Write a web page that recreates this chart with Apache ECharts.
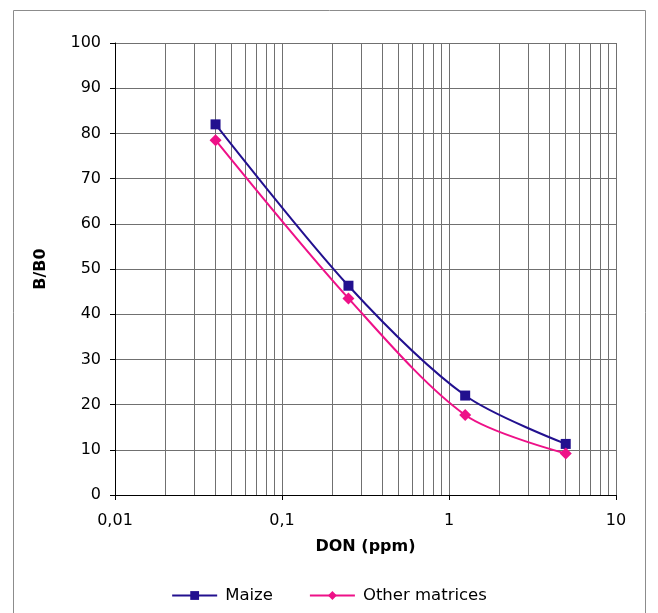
<!DOCTYPE html>
<html>
<head>
<meta charset="utf-8">
<script src="https://cdn.jsdelivr.net/npm/echarts@6/dist/echarts.min.js"></script>
<style>
  html, body { margin: 0; padding: 0; background: #fff; }
  #chart { width: 658px; height: 613px; }
</style>
</head>
<body>
<div id="chart"></div>
<script>
// concentrations (ppm)
var don = [0.04, 0.25, 1.25, 5];
var maize = [82, 46.3, 22, 11.3];
var otherMatrices = [78.5, 43.5, 17.7, 9.2];

// log minor gridlines
var minorX = [0.02, 0.03, 0.04, 0.05, 0.06, 0.07, 0.08, 0.09,
  0.2, 0.3, 0.4, 0.5, 0.6, 0.7, 0.8, 0.9,
  2, 3, 4, 5, 6, 7, 8, 9];

function pairs(xs, ys) {
  return xs.map(function (x, i) { return [x, ys[i]]; });
}

var font = 'DejaVu Sans, Verdana, sans-serif';
var chart = echarts.init(document.getElementById('chart'));

chart.setOption({
  animation: false,
  textStyle: { fontFamily: font },
  graphic: [{
    type: 'rect',
    shape: { x: 13.5, y: 10.5, width: 632, height: 610 },
    style: { fill: 'none', stroke: '#8c8c8c', lineWidth: 1 },
    silent: true
  }],
  grid: { left: 115, top: 43, width: 501, height: 452 },
  legend: {
    bottom: 4,
    left: 'center',
    itemWidth: 45,
    itemHeight: 11,
    itemGap: 36,
    textStyle: { fontSize: 16.5, color: '#000', fontFamily: font, padding: [0, 0, 0, 3] },
    data: ['Maize', 'Other matrices']
  },
  xAxis: {
    type: 'log',
    logBase: 10,
    min: 0.01,
    max: 10,
    name: 'DON (ppm)',
    nameLocation: 'middle',
    nameGap: 44,
    nameTextStyle: { fontSize: 16, fontWeight: 'bold', color: '#000', fontFamily: font },
    axisLine: { lineStyle: { color: '#000', width: 1 } },
    axisTick: { show: true, length: 5, lineStyle: { color: '#000' } },
    axisLabel: {
      fontSize: 16, color: '#000', margin: 18, fontFamily: font,
      formatter: function (v) { return String(v).replace('.', ','); }
    },
    splitLine: { show: true, lineStyle: { color: '#707070', width: 1 } }
  },
  yAxis: {
    type: 'value',
    min: 0,
    max: 100,
    interval: 10,
    name: 'B/B0',
    nameLocation: 'middle',
    nameGap: 66,
    nameTextStyle: { fontSize: 16, fontWeight: 'bold', color: '#000', fontFamily: font },
    axisLine: { show: true, lineStyle: { color: '#000', width: 1 } },
    axisTick: { show: true, length: 5, lineStyle: { color: '#000' } },
    axisLabel: { fontSize: 16, color: '#000', margin: 14, fontFamily: font },
    splitLine: { show: true, lineStyle: { color: '#707070', width: 1 } }
  },
  series: [
    {
      name: 'grid',
      type: 'line',
      data: [],
      silent: true,
      markLine: {
        silent: true,
        symbol: 'none',
        label: { show: false },
        lineStyle: { color: '#707070', type: 'solid', width: 1 },
        data: minorX.map(function (x) { return { xAxis: x }; })
      }
    },
    {
      name: 'Maize',
      type: 'line',
      smooth: 0.3,
      data: pairs(don, maize),
      symbol: 'rect',
      symbolSize: 10,
      lineStyle: { color: '#22108f', width: 2 },
      itemStyle: { color: '#22108f' },
      z: 5
    },
    {
      name: 'Other matrices',
      type: 'line',
      smooth: 0.3,
      data: pairs(don, otherMatrices),
      symbol: 'diamond',
      symbolSize: 12,
      lineStyle: { color: '#ee1188', width: 2 },
      itemStyle: { color: '#ee1188' },
      z: 5
    }
  ]
});
</script>
</body>
</html>
